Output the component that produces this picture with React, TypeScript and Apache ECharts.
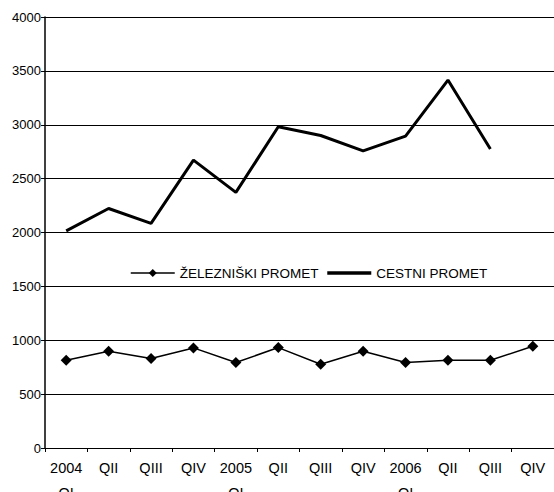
import React, { useEffect, useRef } from "react";
import * as echarts from "echarts";

const categories = ["2004\nQI", "QII", "QIII", "QIV", "2005\nQI", "QII", "QIII", "QIV", "2006\nQI", "QII", "QIII", "QIV"];
const railValues = [814, 898, 830, 929, 793, 932, 777, 898, 793, 814, 814, 944];
const roadValues: (number | null)[] = [2015, 2223, 2084, 2672, 2372, 2981, 2900, 2758, 2895, 3415, 2775, null];
const railName = "ŽELEZNIŠKI PROMET";
const roadName = "CESTNI PROMET";

export default function App() {
  const ref = useRef<HTMLDivElement>(null);
  useEffect(() => {
    const chart = echarts.init(ref.current!, undefined, { renderer: "svg" });
    const font = "Arial, 'Liberation Sans', sans-serif";
    const narrow = "'Liberation Sans Narrow', 'Arial Narrow', Arial, sans-serif";
    chart.setOption({
      animation: false,
      backgroundColor: "#fff",
      textStyle: { fontFamily: font },
      grid: {
        left: 45,
        right: 0,
        top: 17,
        bottom: 44,
        containLabel: false,
        outerBoundsMode: "none",
      },
      legend: {
        left: 125,
        top: 261,
        itemWidth: 44,
        itemHeight: 10,
        itemGap: 7,
        textStyle: { fontSize: 13.5, color: "#000", fontFamily: font },
        data: [
          { name: railName, lineStyle: { width: 1.5 } },
          { name: roadName, itemStyle: { opacity: 0 }, lineStyle: { width: 3.5 } },
        ],
      },
      xAxis: {
        type: "category",
        data: categories,
        boundaryGap: true,
        axisLine: { show: true, lineStyle: { color: "#000", width: 1 } },
        axisTick: { show: true, length: 4, lineStyle: { color: "#000" } },
        axisLabel: {
          interval: 0,
          margin: 7,
          fontSize: 14.5,
          lineHeight: 25,
          color: "#000",
          fontFamily: narrow,
        },
      },
      yAxis: {
        type: "value",
        min: 0,
        max: 4000,
        interval: 500,
        axisLine: { show: true, lineStyle: { color: "#000", width: 1.5 } },
        axisTick: { show: true, length: 4, lineStyle: { color: "#000" } },
        axisLabel: {
          margin: 4,
          fontSize: 13,
          color: "#000",
          fontFamily: font,
          formatter: (v: number) => String(v),
        },
        splitLine: { show: true, lineStyle: { color: "#000", width: 1 } },
      },
      series: [
        {
          name: railName,
          type: "line",
          data: railValues,
          symbol: "diamond",
          symbolSize: 11,
          itemStyle: { color: "#000" },
          lineStyle: { color: "#000", width: 1.5 },
        },
        {
          name: roadName,
          type: "line",
          data: roadValues,
          symbol: "none",
          itemStyle: { color: "#000" },
          lineStyle: { color: "#000", width: 3 },
        },
      ],
    });
    return () => chart.dispose();
  }, []);
  return (
    <div
      ref={ref}
      style={{ position: "fixed", left: 0, top: 0, width: 554, height: 492 }}
    />
  );
}
